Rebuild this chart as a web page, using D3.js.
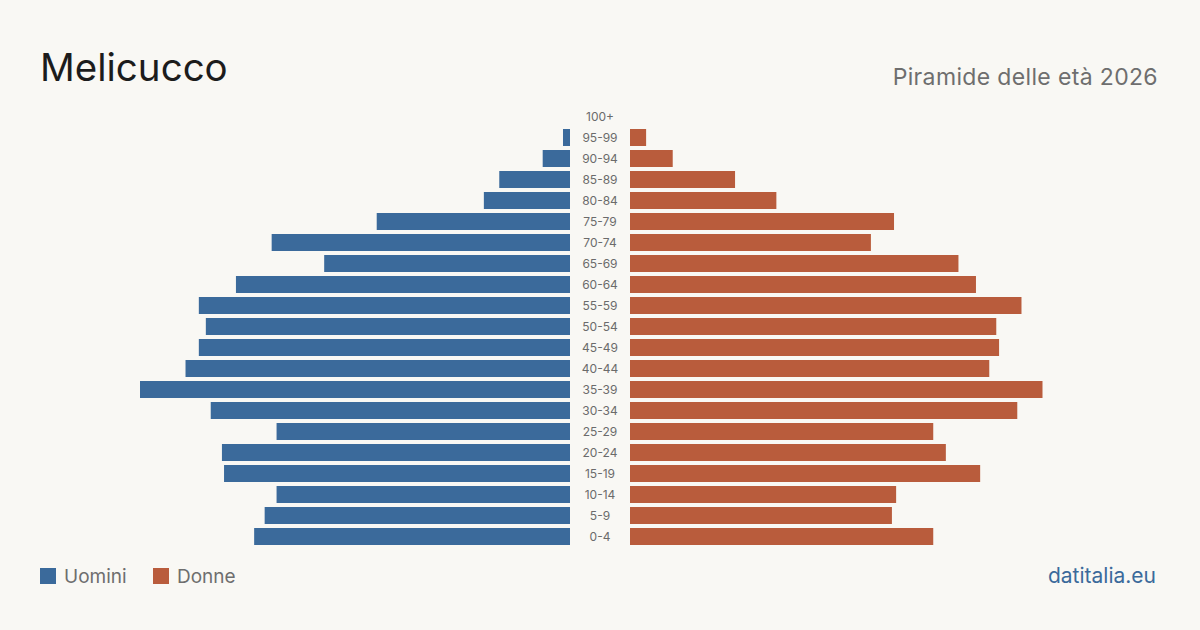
<!DOCTYPE html>
<html><head><meta charset="utf-8">
<script src="https://cdn.jsdelivr.net/npm/d3@7"></script>
<style>html,body{margin:0;padding:0;background:#f9f8f4;}svg{display:block;font-family:Inter,"Noto Sans",sans-serif;}</style>
</head><body>
<svg id="c" width="1200" height="630"></svg>
<script>
const ageGroups = ["100+","95-99","90-94","85-89","80-84","75-79","70-74","65-69","60-64","55-59","50-54","45-49","40-44","35-39","30-34","25-29","20-24","15-19","10-14","5-9","0-4"];
const men   = [0, 1, 3.9, 10.1, 12.3, 27.6, 42.6, 35.1, 47.7, 53, 52, 53, 54.9, 61.4, 51.3, 41.9, 49.7, 49.4, 41.9, 43.6, 45.1];
const women = [0, 2.3, 6.1, 15, 20.9, 37.7, 34.4, 46.9, 49.4, 55.9, 52.3, 52.7, 51.3, 58.9, 55.3, 43.3, 45.1, 50, 38, 37.4, 43.3];
const legendLabels = ["Uomini","Donne"];
const colors = ["#3b6a9b","#b95c3c"];

const svg = d3.select("#c");
svg.append("rect").attr("width",1200).attr("height",630).attr("fill","#f9f8f4");

const y = d3.scaleBand().domain(ageGroups).range([106,547]).paddingInner(4/21).paddingOuter(2/21);
const maxV = 61.4;
const xL = d3.scaleLinear().domain([0,maxV]).range([570,140]);
const xR = d3.scaleLinear().domain([0,maxV]).range([630,1060]);

svg.append("g").selectAll("rect").data(ageGroups).join("rect")
  .attr("x",(d,i)=>xL(men[i])).attr("width",(d,i)=>xL(0)-xL(men[i]))
  .attr("y",d=>y(d)).attr("height",y.bandwidth()).attr("fill",colors[0]);
svg.append("g").selectAll("rect").data(ageGroups).join("rect")
  .attr("x",xR(0)).attr("width",(d,i)=>xR(women[i])-xR(0))
  .attr("y",d=>y(d)).attr("height",y.bandwidth()).attr("fill",colors[1]);

svg.append("g").selectAll("text").data(ageGroups).join("text")
  .attr("x",600).attr("y",d=>y(d)+y.bandwidth()/2).attr("dy","0.35em")
  .attr("text-anchor","middle").attr("font-size",12).attr("fill","#6b6b6b").text(d=>d);

svg.append("text").attr("x",40).attr("y",81).attr("font-size",38.5).attr("fill","#1c1c1c").text("Melicucco");
svg.append("text").attr("x",1158).attr("y",85).attr("text-anchor","end").attr("font-size",23).attr("letter-spacing",0.35).attr("fill","#6e6e6e").text("Piramide delle età 2026");

const lg = svg.append("g");
const lx = [40,153];
legendLabels.forEach((l,i)=>{
  lg.append("rect").attr("x",lx[i]).attr("y",568).attr("width",16).attr("height",16).attr("fill",colors[i]);
  lg.append("text").attr("x",lx[i]+24).attr("y",583).attr("font-size",19).attr("fill","#6e6e6e").text(l);
});
svg.append("text").attr("x",1156).attr("y",583).attr("text-anchor","end").attr("font-size",21).attr("fill","#3b6a9b").text("datitalia.eu");
</script>
</body></html>
